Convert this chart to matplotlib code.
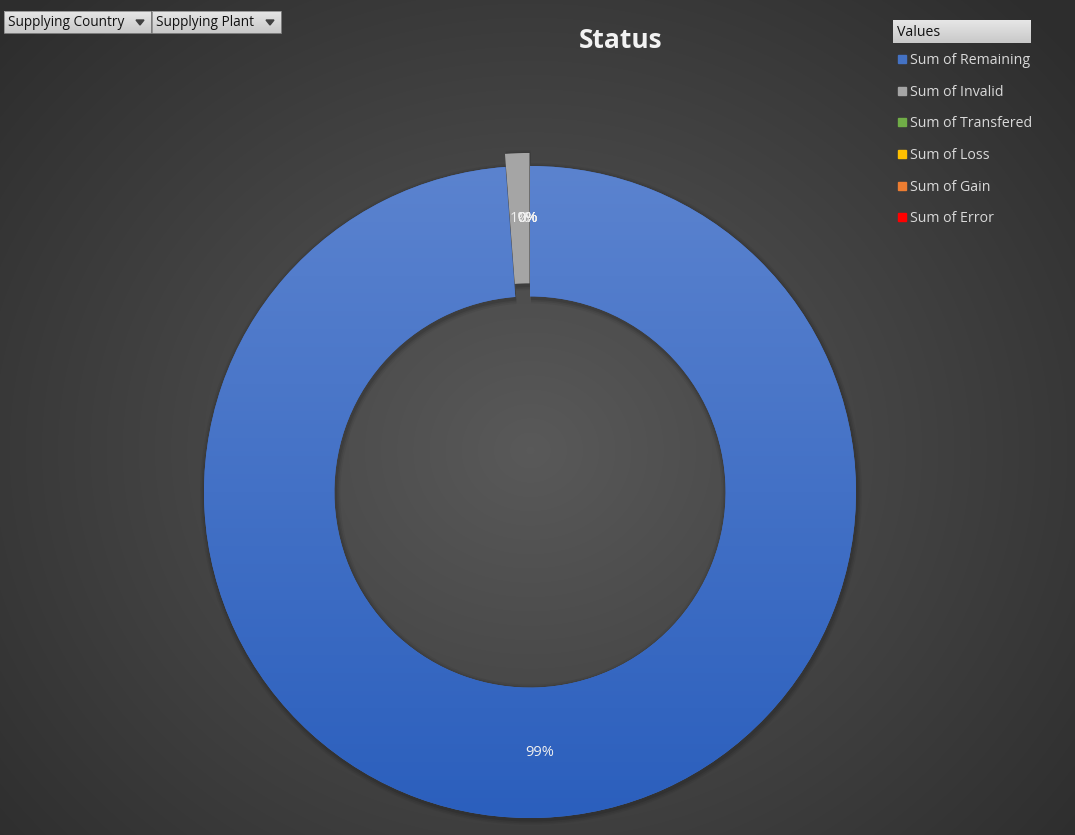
import matplotlib
matplotlib.use("Agg")
import matplotlib.pyplot as plt
import numpy as np
from matplotlib.colors import LinearSegmentedColormap
from matplotlib.patches import Rectangle, Polygon

# data
SERIES = ["Sum of Remaining", "Sum of Invalid", "Sum of Transfered",
          "Sum of Loss", "Sum of Gain", "Sum of Error"]
VALUES = [98.8, 1.2, 0, 0, 0, 0]
COLORS = ["#4472c4", "#a5a5a5", "#70ad47", "#ffc000", "#ed7d31", "#ff0000"]
EXPLODE = [0, 0.04, 0, 0, 0, 0]
FILTERS = ["Supplying Country", "Supplying Plant"]
TITLE = "Status"

W, H = 1075, 835
fig = plt.figure(figsize=(W / 100, H / 100), dpi=100)

# radial background
bg = fig.add_axes([0, 0, 1, 1])
bg.set_axis_off()
yy, xx = np.mgrid[0:H, 0:W]
r = np.hypot((xx - 530) / 700, (yy - 450) / 620)
shade = np.clip(0.35 - 0.17 * r, 0.18, 0.35)
bg.imshow(np.dstack([shade] * 3), extent=[0, W, H, 0], aspect="auto")
bg.set_xlim(0, W)
bg.set_ylim(H, 0)

# filter buttons
btn_grad = LinearSegmentedColormap.from_list("btn", ["#e6e6e6", "#c9c9c9"])
btn_x = [4, 152]
btn_w = [147, 129]
for label, x0, w in zip(FILTERS, btn_x, btn_w):
    bg.imshow(np.linspace(0, 1, 20).reshape(-1, 1), cmap=btn_grad, aspect="auto",
              extent=[x0, x0 + w, 33, 11], zorder=2)
    bg.add_patch(Rectangle((x0, 11), w, 22, fill=False, ec="#8a8a8a", lw=0.6, zorder=3))
    bg.text(x0 + 4, 23, label, fontsize=9.8, family="Open Sans", color="#111111",
            va="center", ha="left", zorder=4)
    ax0 = x0 + w - 11
    bg.add_patch(Polygon([[ax0 - 4, 20], [ax0 + 4, 20], [ax0, 25]], closed=True,
                         color="#404040", zorder=4))

# legend
bg.imshow(np.linspace(0, 1, 20).reshape(-1, 1), cmap=btn_grad, aspect="auto",
          extent=[893, 1031, 43, 20], zorder=2)
bg.text(897, 33, "Values", fontsize=10.2, family="Open Sans", color="#111111",
        va="center", ha="left", zorder=4)
leg_y = [59, 91, 122, 154, 186, 217]
for name, col, ly in zip(SERIES, COLORS, leg_y):
    bg.add_patch(Rectangle((898, ly - 4), 8, 8, color=col, zorder=3))
    bg.text(910, ly + 1.5, name, fontsize=10.2, family="Open Sans", color="#d9d9d9",
            va="center", ha="left", zorder=4)

bg.text(621, 40, TITLE, fontsize=19, family="Open Sans", fontweight="bold",
        color="#f2f2f2", va="center", ha="center", zorder=4)

# doughnut
cx, cy, rad = 530, 492, 326
lim = 1.1
size = 2 * lim * rad
ax = fig.add_axes([(cx - size / 2) / W, (H - cy - size / 2) / H, size / W, size / H])
ax.set_axis_off()

# soft shadow behind the ring, following the slices
for k, a in enumerate([0.09, 0.07, 0.05]):
    ax.pie(VALUES, radius=1.0 + 0.005 * (k + 1), colors=["black"] * len(VALUES),
           explode=EXPLODE, startangle=90, counterclock=False, center=(0.003, -0.006),
           wedgeprops=dict(width=0.4 + 0.01 * (k + 1), alpha=a, lw=0))

wedges, texts, autotexts = ax.pie(
    VALUES, colors=COLORS, explode=EXPLODE, startangle=90, counterclock=False,
    autopct="%.0f%%", pctdistance=0.8,
    wedgeprops=dict(width=0.4, lw=0),
    textprops=dict(color="#f0f0f0", fontsize=10.5, family="Open Sans"))

# vertical gradient on the blue ring
blue_grad = LinearSegmentedColormap.from_list("blue", ["#5b83cf", "#2b5fbd"])
img = ax.imshow(np.linspace(0, 1, 256).reshape(-1, 1), cmap=blue_grad, aspect="auto",
                extent=[-1, 1, -1, 1], zorder=wedges[0].get_zorder() + 0.1)
img.set_clip_path(wedges[0])

# labels of empty slices pile up on the Invalid label, as in Excel
gx, gy = autotexts[1].get_position()
for i, t in enumerate(autotexts):
    t.set_zorder(10)
    if VALUES[i] == 0:
        t.set_position((gx + 0.025, gy))

ax.set_xlim(-lim, lim)
ax.set_ylim(-lim, lim)

fig.savefig("out.png", dpi=100)
